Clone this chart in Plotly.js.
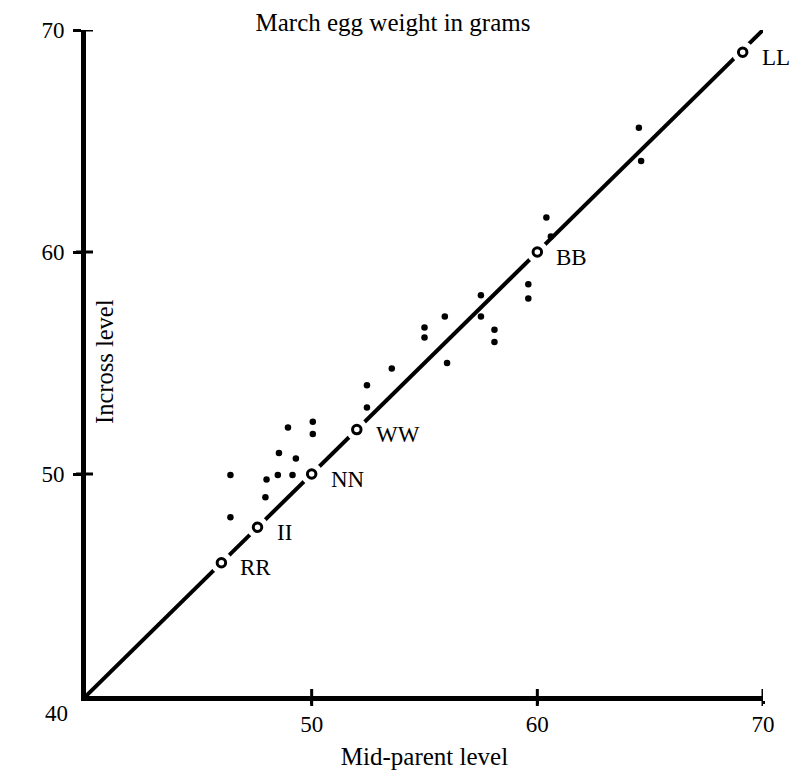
<!DOCTYPE html>
<html>
<head>
<meta charset="utf-8">
<script src="https://cdn.plot.ly/plotly-3.0.1.min.js"></script>
<style>html,body{margin:0;padding:0;background:#fff;}#chart{width:796px;height:770px;}</style>
</head>
<body>
<div id="chart"></div>
<script>
// Inbred lines: mid-parent vs incross level (circles with labels)
const pairLabels = ["RR", "II", "NN", "WW", "BB", "LL"];
const pairX = [46.0, 47.6, 50.0, 52.0, 60.0, 69.1];
const pairY = [46.0, 47.6, 50.0, 52.0, 60.0, 69.0];

// Crosses: mid-parent level vs cross level (dots)
const crossX = [64.5, 64.6, 60.4, 60.6, 59.6, 59.6, 57.5, 57.5, 55.9, 58.1, 58.1, 55.0, 55.0, 56.0,
                53.55, 52.45, 52.45, 48.95, 50.05, 50.05, 48.55, 49.3, 46.4, 48.0, 48.5, 49.15, 47.95, 46.4];
const crossY = [65.6, 64.1, 61.55, 60.7, 58.55, 57.9, 58.05, 57.1, 57.1, 56.5, 55.95, 56.6, 56.15, 55.0,
                54.75, 54.0, 53.0, 52.1, 52.35, 51.8, 50.95, 50.7, 49.95, 49.75, 49.95, 49.95, 48.95, 48.05];

// Line of equality
const lineX = [40, 70];
const lineY = [40, 70];

// Axis ticks
const tickVals = [50, 60, 70];
const tickText = ["50", "60", "70"];
const cornerLabel = "40";

const FONT = "Liberation Serif, Times New Roman, serif";

const traces = [
  {x: lineX, y: lineY, mode: "lines", line: {color: "#000", width: 4}, hoverinfo: "skip", showlegend: false},
  {x: pairX, y: pairY, mode: "markers", marker: {symbol: "circle", size: 22, color: "#fff", line: {width: 0}},
   hoverinfo: "skip", showlegend: false, cliponaxis: false},
  {x: pairX, y: pairY, mode: "markers", marker: {symbol: "circle-open", size: 8.5, color: "#000", line: {width: 3, color: "#000"}},
   showlegend: false, cliponaxis: false},
  {x: crossX, y: crossY, mode: "markers", marker: {symbol: "circle", size: 6.5, color: "#000"}, showlegend: false}
];

const annotations = pairLabels.map((t, i) => ({
  x: pairX[i], y: pairY[i], xref: "x", yref: "y", text: t, showarrow: false,
  xanchor: "left", yanchor: "middle", xshift: 17, yshift: -5,
  font: {family: FONT, size: 23, color: "#000"}
}));
annotations.push({
  x: 40, y: 40, xref: "x", yref: "y", text: cornerLabel, showarrow: false,
  xanchor: "center", yanchor: "middle", xshift: -30, yshift: -17,
  font: {family: FONT, size: 23, color: "#000"}
});
annotations.push({
  x: 22 / 796, y: 1 - 383 / 770, xref: "paper", yref: "paper", text: "Incross level", showarrow: false,
  textangle: -90, xanchor: "center", yanchor: "middle",
  font: {family: FONT, size: 24.5, color: "#000"}
});

// Tick marks crossing the axis lines (built from tickVals)
const shapes = [];
tickVals.forEach(v => {
  shapes.push({type: "line", xref: "x", yref: "paper", ysizemode: "pixel", yanchor: 0,
               x0: v, x1: v, y0: -10, y1: 7, line: {color: "#000", width: 3}, layer: "above"});
  shapes.push({type: "line", yref: "y", xref: "paper", xsizemode: "pixel", xanchor: 0,
               y0: v, y1: v, x0: -10, x1: 7, line: {color: "#000", width: 3}, layer: "above"});
});

const baseAxis = {
  range: [40, 70], showgrid: false, zeroline: false, showline: true, linewidth: 5, linecolor: "#000",
  ticks: "outside", tickwidth: 3, tickcolor: "#000",
  tickmode: "array", tickvals: tickVals, ticktext: tickText,
  tickfont: {family: FONT, size: 23, color: "#000"}, fixedrange: true
};

const layout = {
  width: 796, height: 770,
  margin: {l: 86, r: 33, t: 30, b: 74},
  paper_bgcolor: "#fff", plot_bgcolor: "#fff",
  showlegend: false,
  title: {text: "March egg weight in grams", x: 393 / 796, xanchor: "center", xref: "container",
          y: 1 - 22 / 770, yanchor: "middle", yref: "container",
          font: {family: FONT, size: 25, color: "#000"}},
  xaxis: Object.assign({}, baseAxis, {
    ticklen: 3,
    title: {text: "Mid-parent level", standoff: 16, font: {family: FONT, size: 25, color: "#000"}}
  }),
  yaxis: Object.assign({}, baseAxis, {ticklen: 8, ticklabelstandoff: 4}),
  shapes: shapes,
  annotations: annotations
};

Plotly.newPlot("chart", traces, layout, {displayModeBar: false, staticPlot: true});
</script>
</body>
</html>
